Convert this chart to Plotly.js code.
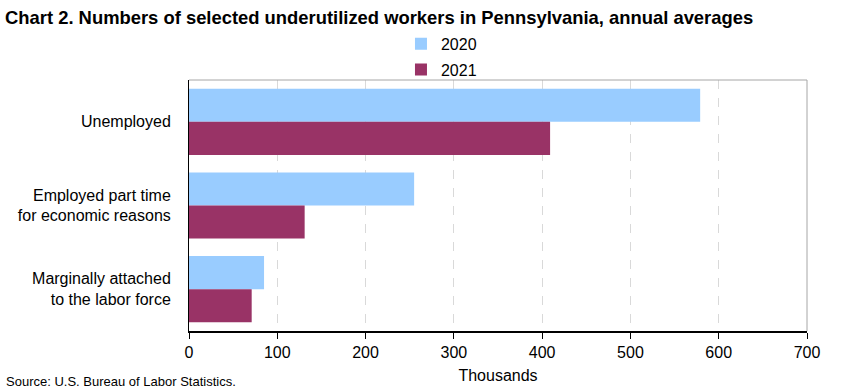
<!DOCTYPE html>
<html>
<head>
<meta charset="utf-8">
<script src="https://cdn.plot.ly/plotly-3.0.1.min.js"></script>
<style>html,body{margin:0;padding:0;background:#fff;}#chart{width:841px;height:391px;}</style>
</head>
<body>
<div id="chart"></div>
<script>
const categories = ["Unemployed", "Employed part time<br>for economic reasons", "Marginally attached<br>to the labor force"];
const values2020 = [579, 255, 85];
const values2021 = [409, 131, 71];
const xTicks = [0, 100, 200, 300, 400, 500, 600, 700];

const font = "Arial, 'Liberation Sans', sans-serif";
const traces = [
  {type: "bar", orientation: "h", name: "2020", y: categories, x: values2020, legendgroup: "a",
   marker: {color: "#99ccff"}, hoverinfo: "x+name"},
  {type: "bar", orientation: "h", name: "2021", y: categories, x: values2021, legendgroup: "b",
   marker: {color: "#993366"}, hoverinfo: "x+name"}
];
const layout = {
  width: 841, height: 391,
  margin: {l: 189, r: 34, t: 80, b: 60},
  paper_bgcolor: "#fff", plot_bgcolor: "#fff",
  font: {family: font, size: 16, color: "#000"},
  barmode: "group", bargap: 0.21, bargroupgap: 0,
  title: {text: "<b>Chart 2. Numbers of selected underutilized workers in Pennsylvania, annual averages</b>",
          x: 0.006, xanchor: "left", y: 0.954, yanchor: "middle", font: {family: font, size: 18.4, color: "#000"}},
  xaxis: {range: [0, 700], tickvals: xTicks, ticktext: xTicks.map(String),
          showgrid: true, gridcolor: "#d9d9d9", griddash: "dash", gridwidth: 1,
          showline: true, linecolor: "#000", linewidth: 2, ticks: "outside", ticklen: 6, tickcolor: "#000",
          tickfont: {size: 16}, ticklabelstandoff: 0, mirror: false, zeroline: false,
          title: {text: "Thousands", font: {size: 16}, standoff: 10}},
  yaxis: {autorange: "reversed", showline: true, linecolor: "#000", linewidth: 1,
          ticks: "", showgrid: false, tickfont: {size: 16}, ticklabelstandoff: 14},
  legend: {orientation: "v", x: 0.343, xanchor: "left", y: 1.212, yanchor: "top",
           font: {size: 16}, bgcolor: "rgba(0,0,0,0)", tracegroupgap: 2, itemwidth: 30},
  shapes: [
    {type: "line", xref: "paper", yref: "paper", x0: 0, x1: 1, y0: 1, y1: 1, line: {color: "#a6a6a6", width: 1}},
    {type: "line", xref: "paper", yref: "paper", x0: 1, x1: 1, y0: 0, y1: 1, line: {color: "#a6a6a6", width: 1}}
  ],
  annotations: [
    {text: "Source: U.S. Bureau of Labor Statistics.", xref: "paper", yref: "paper",
     x: -189/618, y: -50/251, xanchor: "left", yanchor: "middle", showarrow: false,
     font: {size: 13, color: "#000"}, xshift: 4}
  ]
};
Plotly.newPlot("chart", traces, layout, {displayModeBar: false, staticPlot: true});
</script>
</body>
</html>
